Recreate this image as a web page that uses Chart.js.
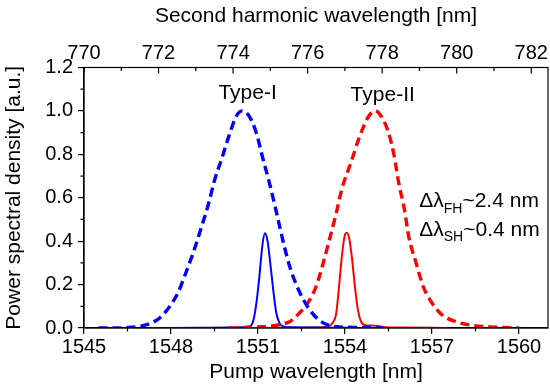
<!doctype html>
<html>
<head>
<title>Type-I / Type-II spectra</title>
<script src="https://cdn.jsdelivr.net/npm/chart.js@4/dist/chart.umd.min.js"></script>
<style>
	html, body { margin: 0; padding: 0; background: #fff; }
	#wrap { width: 550px; height: 392px; }
</style>
</head>
<body>
<div id="wrap"><canvas id="canvas"></canvas></div>
<script>
// fundamental (pump) spectra, dashed
var fh1Wl  = [1545.5, 1546.0, 1546.5, 1547.0, 1547.3, 1547.6, 1547.95, 1548.25, 1548.5, 1548.8, 1549.05, 1549.3, 1549.5, 1549.75, 1550.0, 1550.25, 1550.45, 1550.7, 1550.95, 1551.15, 1551.4, 1551.65, 1551.9, 1552.1, 1552.4, 1552.75, 1553.1, 1553.45, 1553.8, 1554.3, 1554.8, 1555.3];
var fh1Val = [0, 0, 0.002, 0.01, 0.022, 0.045, 0.098, 0.165, 0.25, 0.36, 0.465, 0.575, 0.68, 0.78, 0.885, 0.975, 1.0, 0.975, 0.895, 0.79, 0.665, 0.525, 0.38, 0.28, 0.175, 0.09, 0.037, 0.012, 0.005, 0.003, 0.002, 0];
var fh2Wl  = [1550.0, 1550.5, 1551.0, 1551.5, 1551.8, 1552.1, 1552.4, 1552.7, 1553.0, 1553.25, 1553.45, 1553.7, 1553.9, 1554.2, 1554.5, 1554.8, 1555.05, 1555.25, 1555.5, 1555.7, 1555.85, 1556.05, 1556.2, 1556.45, 1556.7, 1557.0, 1557.35, 1557.8, 1558.3, 1559.0, 1560.0];
var fh2Val = [0, 0.002, 0.005, 0.01, 0.017, 0.03, 0.065, 0.112, 0.19, 0.3, 0.4, 0.53, 0.645, 0.76, 0.88, 0.972, 1.0, 0.975, 0.9, 0.79, 0.67, 0.545, 0.42, 0.3, 0.19, 0.115, 0.06, 0.03, 0.014, 0.005, 0];

// second harmonic spectra, solid
var sh1Wl  = [1547.3, 1549.0, 1550.0, 1550.5, 1550.75, 1550.85, 1550.95, 1551.05, 1551.15, 1551.24, 1551.33, 1551.43, 1551.53, 1551.63, 1551.75, 1551.9, 1552.2, 1553.0, 1554.5];
var sh1Val = [0, 0.001, 0.002, 0.004, 0.01, 0.04, 0.12, 0.24, 0.38, 0.436, 0.4, 0.29, 0.17, 0.07, 0.02, 0.006, 0.003, 0.002, 0];
var sh2Wl  = [1550.5, 1552.0, 1553.0, 1553.4, 1553.55, 1553.7, 1553.8, 1553.9, 1554.0, 1554.06, 1554.15, 1554.25, 1554.35, 1554.45, 1554.55, 1554.7, 1554.9, 1555.1, 1555.4, 1556.0, 1557.5];
var sh2Val = [0, 0.001, 0.002, 0.006, 0.02, 0.07, 0.2, 0.34, 0.43, 0.439, 0.41, 0.31, 0.18, 0.08, 0.03, 0.013, 0.012, 0.01, 0.004, 0.002, 0];

// axes
var pumpMin = 1545, pumpMax = 1561, pumpStep = 3;
var pumpMinor = [1546.5, 1549.5, 1552.5, 1555.5, 1558.5];
var shMin = 770, shMax = 782.45, shStep = 2;
var shMajor = [770, 772, 774, 776, 778, 780, 782];
var shMinor = [771, 773, 775, 777, 779, 781];
var yMin = 0, yMax = 1.2, yStep = 0.2;
var yMinor = [0.1, 0.3, 0.5, 0.7, 0.9, 1.1];

var BLUE = 'rgb(0,0,255)';
var RED = 'rgb(255,0,0)';
var FONT = '"Liberation Sans", Arial, sans-serif';

function pts(xs, ys) {
	return xs.map(function(x, i) { return {x: x, y: ys[i]}; });
}

Chart.defaults.font.family = FONT;
Chart.defaults.color = '#000';

// frame, inward top ticks, minor ticks and text labels
var extras = {
	id: 'extras',
	afterDraw: function(chart) {
		var ctx = chart.ctx, a = chart.chartArea;
		var sx = chart.scales.x, sx2 = chart.scales.x2, sy = chart.scales.y;
		ctx.save();
		ctx.strokeStyle = '#000';
		ctx.lineWidth = 1.2;
		ctx.strokeRect(a.left, a.top, a.right - a.left, a.bottom - a.top);
		ctx.beginPath();
		pumpMinor.forEach(function(v) {
			var p = sx.getPixelForValue(v);
			ctx.moveTo(p, a.bottom); ctx.lineTo(p, a.bottom + 3.5);
		});
		shMajor.forEach(function(v) {
			var p = sx2.getPixelForValue(v);
			ctx.moveTo(p, a.top); ctx.lineTo(p, a.top + 6);
		});
		shMinor.forEach(function(v) {
			var p = sx2.getPixelForValue(v);
			ctx.moveTo(p, a.top); ctx.lineTo(p, a.top + 3.5);
		});
		yMinor.forEach(function(v) {
			var p = sy.getPixelForValue(v);
			ctx.moveTo(a.left, p); ctx.lineTo(a.left - 3.5, p);
		});
		ctx.stroke();

		ctx.fillStyle = '#000';
		ctx.font = '21px ' + FONT;
		ctx.textAlign = 'center';
		ctx.textBaseline = 'middle';
		ctx.fillText('Type-I', sx.getPixelForValue(1550.64), sy.getPixelForValue(1.082));
		ctx.fillText('Type-II', sx.getPixelForValue(1555.3), sy.getPixelForValue(1.073));

		function delta(sub, rest, x, y) {
			ctx.textAlign = 'left';
			ctx.font = '21px ' + FONT;
			ctx.fillText('\u0394\u03bb', x, y);
			var w = ctx.measureText('\u0394\u03bb').width;
			ctx.font = '14px ' + FONT;
			ctx.fillText(sub, x + w, y + 7);
			var w2 = ctx.measureText(sub).width;
			ctx.font = '21px ' + FONT;
			ctx.fillText(rest, x + w + w2, y);
		}
		var dx = sx.getPixelForValue(1556.56);
		delta('FH', '~2.4 nm', dx, sy.getPixelForValue(0.582));
		delta('SH', '~0.4 nm', dx, sy.getPixelForValue(0.452));
		ctx.restore();
	}
};

function lineSet(data, color, dashed) {
	return {
		data: data,
		borderColor: color,
		backgroundColor: color,
		borderWidth: dashed ? 3.4 : 2,
		borderDash: dashed ? [9, 5] : [],
		pointRadius: 0,
		fill: false,
		cubicInterpolationMode: 'monotone'
	};
}

var config = {
	type: 'line',
	data: {
		datasets: [
			lineSet(pts(fh1Wl, fh1Val), BLUE, true),
			lineSet(pts(fh2Wl, fh2Val), RED, true),
			lineSet(pts(sh1Wl, sh1Val), BLUE, false),
			lineSet(pts(sh2Wl, sh2Val), RED, false)
		]
	},
	options: {
		responsive: true,
		maintainAspectRatio: false,
		animation: false,
		layout: { padding: { left: 0, right: 2, top: 0, bottom: 0 } },
		plugins: { legend: { display: false }, tooltip: { enabled: false } },
		scales: {
			x: {
				type: 'linear',
				position: 'bottom',
				min: pumpMin, max: pumpMax,
				afterBuildTicks: function(s) {
					s.ticks = [];
					for (var v = pumpMin; v <= pumpMax; v += pumpStep) s.ticks.push({value: v});
				},
				ticks: { font: { size: 20 }, padding: 1, maxRotation: 0, callback: function(v) { return v; } },
				grid: { drawOnChartArea: false, color: '#000', lineWidth: 1.2, tickLength: 6 },
				border: { color: '#000', width: 1.2 },
				title: { display: true, text: 'Pump wavelength [nm]', font: { size: 21 }, padding: { top: 0, bottom: 7 } },
				afterFit: function(s) { s.height = 64; }
			},
			x2: {
				type: 'linear',
				position: 'top',
				min: shMin, max: shMax,
				afterBuildTicks: function(s) {
					s.ticks = shMajor.map(function(v) { return {value: v}; });
				},
				ticks: { font: { size: 20 }, padding: 2, maxRotation: 0, callback: function(v) { return v; } },
				grid: { display: false, drawTicks: false },
				border: { display: false },
				title: { display: true, text: 'Second harmonic wavelength [nm]', font: { size: 21 }, padding: { top: 4, bottom: 0 } },
				afterFit: function(s) { s.height = 67.5; }
			},
			y: {
				min: yMin, max: yMax,
				ticks: { stepSize: yStep, font: { size: 20 }, padding: 5, callback: function(v) { return v.toFixed(1); } },
				grid: { drawOnChartArea: false, color: '#000', lineWidth: 1.2, tickLength: 6 },
				border: { color: '#000', width: 1.2 },
				title: { display: true, text: 'Power spectral density [a.u.]', font: { size: 21 }, padding: { top: 2, bottom: 0 } },
				afterFit: function(s) { s.width = 84; }
			}
		}
	},
	plugins: [extras]
};

window.onload = function() {
	var ctx = document.getElementById('canvas').getContext('2d');
	window.myChart = new Chart(ctx, config);
};
</script>
</body>
</html>
